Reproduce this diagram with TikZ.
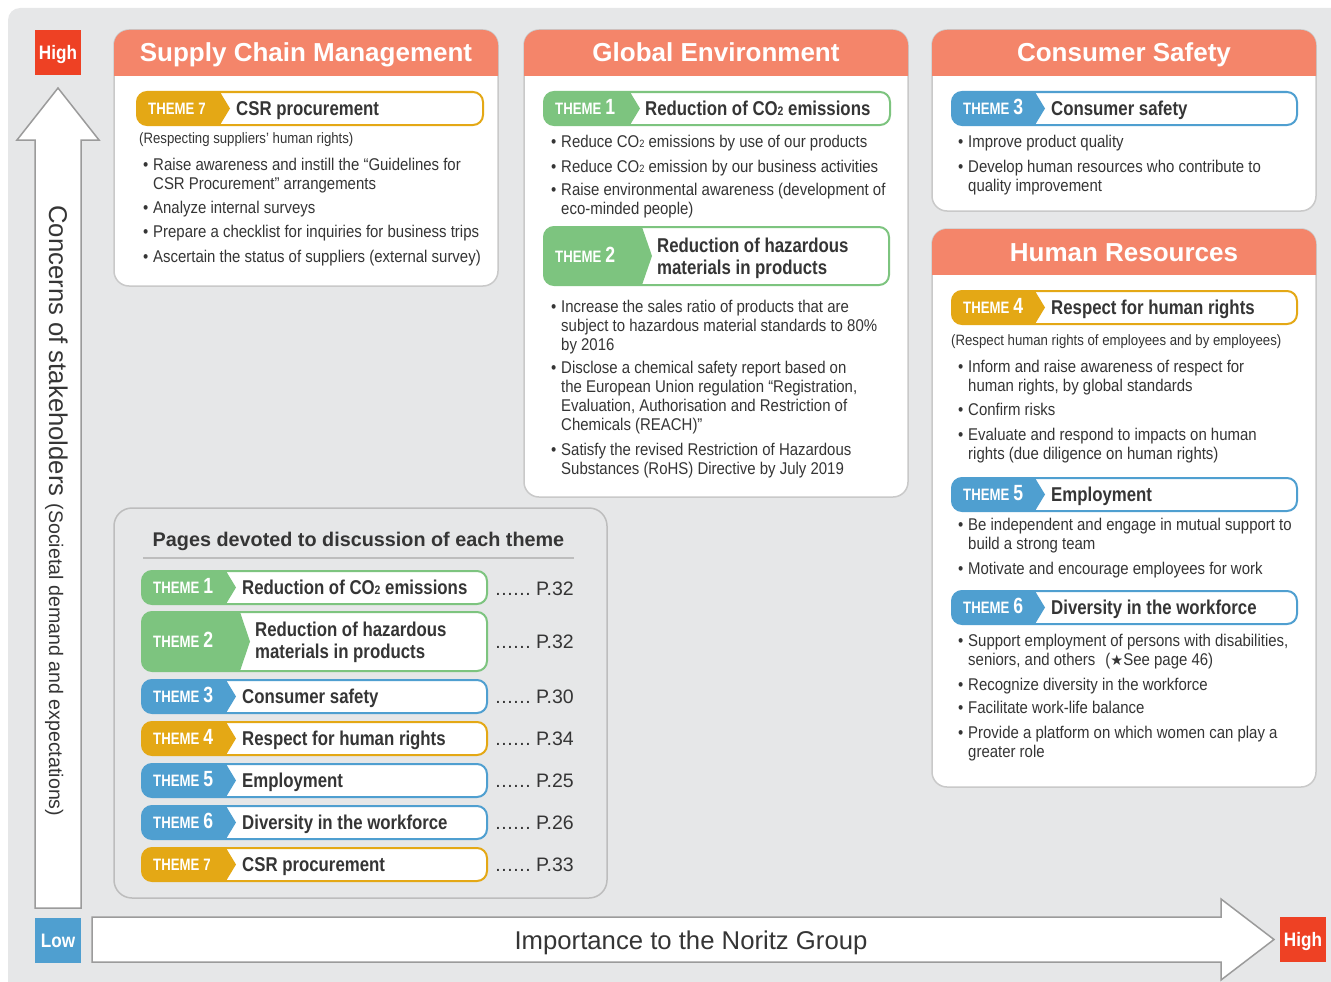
\documentclass[tikz,border=0pt]{standalone}
\usepackage{fontspec}
\usepackage{graphicx}
\setmainfont{Liberation Sans}
\newfontfamily\condfont{Liberation Sans}[FakeStretch=0.88]
\newfontfamily\tagfont{Liberation Sans}[FakeStretch=0.84]
\newfontfamily\themefont{Liberation Sans}[FakeStretch=0.8]
\newfontfamily\symfont{DejaVu Sans}
\definecolor{bg}{HTML}{E6E7E8}
\definecolor{hdrc}{HTML}{F4856A}
\definecolor{tgreen}{HTML}{7DC47F}
\definecolor{tblue}{HTML}{4F9FD0}
\definecolor{tgold}{HTML}{E4A815}
\definecolor{hired}{HTML}{EE4124}
\definecolor{lowblue}{HTML}{4F9FD0}
\definecolor{txt}{HTML}{353535}
\definecolor{pborder}{HTML}{C9C9C9}
\definecolor{ppborder}{HTML}{BDBDBD}
\definecolor{arrowc}{HTML}{9B9B9B}
\newcommand\COt{CO\scalebox{0.62}{2}}
\newcommand\TL[1]{THEME\hspace{4pt}{\fontsize{22}{22}\selectfont #1}}
\newcommand\TLs[1]{THEME\hspace{4pt}#1}
\newcommand\Ln[1]{\hbox{#1}}
\newcommand\Dots{.\kern0.6pt.\kern0.6pt.\kern0.6pt.\kern0.6pt.\kern0.6pt.}
\newcommand\Item[4]{\node[bul] (#1b) at (#2-10,#3) {•};\node[body] (#1) at (#2,#3) {\vtop{#4}};}
\newcommand\Panel[7]{%
  \draw[panel] (#2,#3) rectangle (#4,#5);
  \begin{scope}
    \clip[rounded corners=15] (#2,#3) rectangle (#4,#5);
    \fill[hdrc] (#2-2,#3-2) rectangle (#4+2,#6);
  \end{scope}
  \node[hdr] (#1) at ({(#2+#4)/2},{#3+32}) {#7};}
\newcommand\TagBox[8]{%
  \pgfmathsetmacro\tagmid{(#3+#5)/2}
  \begin{scope}
    \clip[rounded corners=10] (#2,#3) rectangle (#4,#5);
    \fill[white] (#2,#3) rectangle (#4,#5);
    \fill[#7] (#2-2,#3) -- (#6,#3) -- (#6+10,\tagmid) -- (#6,#5) -- (#2-2,#5) -- cycle;
  \end{scope}
  \draw[#7, line width=2, rounded corners=10] (#2,#3) rectangle (#4,#5);
  \node[thm] (#1) at (#2+11,\tagmid+6) {#8};}
\begin{document}
\begin{tikzpicture}[x=1pt,y=-1pt,
  panel/.style={fill=white, draw=pborder, line width=1.5, rounded corners=15},
  ppanel/.style={fill=bg, draw=ppborder, line width=1.5, rounded corners=18},
  hdr/.style={font=\bfseries\fontsize{26}{30}\selectfont, text=white, inner sep=0, anchor=base},
  body/.style={font=\condfont\fontsize{17}{19}\selectfont, text=txt, inner sep=0, anchor=base west},
  small/.style={font=\condfont\fontsize{15}{18}\selectfont, text=txt, inner sep=0, anchor=base west},
  bul/.style={font=\condfont\fontsize{17}{19}\selectfont, text=txt, inner sep=0, anchor=base west},
  ttl/.style={font=\tagfont\bfseries\fontsize{20}{22}\selectfont, text=txt, inner sep=0, anchor=base west},
  thm/.style={font=\themefont\bfseries\fontsize{16.5}{18}\selectfont, text=white, inner sep=0, anchor=base west},
  pg/.style={font=\fontsize{19.5}{22}\selectfont, text=txt, inner sep=0, anchor=base east},
  lvl/.style={minimum width=46, minimum height=45, inner sep=0, text height=14pt, text depth=0pt, text=white, font=\condfont\bfseries\fontsize{19.5}{20}\selectfont},
  bigarrow/.style={fill=white, draw=arrowc, line width=1.5}]
\useasboundingbox (0,0) rectangle (1331,982);
\begin{scope}
  \clip (0,0) rectangle (1331,982);
  \fill[bg, rounded corners=12] (8,8) rectangle (1360,1010);
\end{scope}
% axes
\draw[bigarrow] (35,908) -- (35,140) -- (17,140) -- (58,88) -- (99,140) -- (81,140) -- (81,908) -- cycle;
\draw[bigarrow] (92,917) -- (1221,917) -- (1221,899) -- (1274,939.5) -- (1221,980) -- (1221,962) -- (92,962) -- cycle;
\node[lvl, fill=hired] (hiy) at (58,52.5) {High};
\node[lvl, fill=lowblue] (low) at (58,940.5) {Low};
\node[lvl, fill=hired] (hix) at (1303,939.5) {High};
\node[anchor=base west, rotate=-90, inner sep=0, text=txt] (yl) at (49,205)
  {{\fontsize{25.7}{28}\selectfont Concerns of stakeholders}\hspace{7pt}{\fontsize{19.6}{22}\selectfont (Societal demand and expectations)}};
\node[anchor=base, inner sep=0, text=txt, font=\fontsize{25.7}{28}\selectfont] (xl) at (691,949) {Importance to the Noritz Group};
% Supply Chain Management
\Panel{scm}{114}{30}{498}{286}{76}{Supply Chain Management}
\TagBox{scm7}{137}{92}{483}{125}{220}{tgold}{\TLs{7}}
\node[ttl] (scm7t) at (236,115.5) {CSR procurement};
\node[small] (scmn) at (139,143) {(Respecting suppliers’ human rights)};
\Item{scma}{153}{170}{\Ln{Raise awareness and instill the “Guidelines for}\Ln{CSR Procurement” arrangements}}
\Item{scmb}{153}{213}{\Ln{Analyze internal surveys}}
\Item{scmc}{153}{237}{\Ln{Prepare a checklist for inquiries for business trips}}
\Item{scmd}{153}{262}{\Ln{Ascertain the status of suppliers (external survey)}}
% Global Environment
\Panel{ge}{524}{30}{908}{497}{76}{Global Environment}
\TagBox{ge1}{544}{92}{890}{125}{630}{tgreen}{\TL{1}}
\node[ttl] (ge1t) at (645,115.5) {Reduction of \COt\ emissions};
\Item{gea}{561}{147}{\Ln{Reduce \COt\ emissions by use of our products}}
\Item{geb}{561}{172}{\Ln{Reduce \COt\ emission by our business activities}}
\Item{gec}{561}{195}{\Ln{Raise environmental awareness (development of}\Ln{eco-minded people)}}
\TagBox{ge2}{544}{227}{889}{285}{642}{tgreen}{\TL{2}}
\node[ttl] (ge2t) at (657,252) {\vtop{\Ln{Reduction of hazardous}\Ln{materials in products}}};
\Item{ged}{561}{312}{\Ln{Increase the sales ratio of products that are}\Ln{subject to hazardous material standards to 80\%}\Ln{by 2016}}
\Item{gee}{561}{373}{\Ln{Disclose a chemical safety report based on}\Ln{the European Union regulation “Registration,}\Ln{Evaluation, Authorisation and Restriction of}\Ln{Chemicals (REACH)”}}
\Item{gef}{561}{455}{\Ln{Satisfy the revised Restriction of Hazardous}\Ln{Substances (RoHS) Directive by July 2019}}
% Consumer Safety
\Panel{cs}{932}{30}{1316}{211}{76}{Consumer Safety}
\TagBox{cs3}{952}{92}{1297}{125}{1035}{tblue}{\TL{3}}
\node[ttl] (cs3t) at (1051,115.5) {Consumer safety};
\Item{csa}{968}{147}{\Ln{Improve product quality}}
\Item{csb}{968}{172}{\Ln{Develop human resources who contribute to}\Ln{quality improvement}}
% Human Resources
\Panel{hr}{932}{229}{1316}{787}{275}{Human Resources}
\TagBox{hr4}{952}{291}{1297}{324}{1035}{tgold}{\TL{4}}
\node[ttl] (hr4t) at (1051,314.5) {Respect for human rights};
\node[small] (hrn) at (951,345) {(Respect human rights of employees and by employees)};
\Item{hra}{968}{372}{\Ln{Inform and raise awareness of respect for}\Ln{human rights, by global standards}}
\Item{hrb}{968}{415}{\Ln{Confirm risks}}
\Item{hrc}{968}{440}{\Ln{Evaluate and respond to impacts on human}\Ln{rights (due diligence on human rights)}}
\TagBox{hr5}{952}{478}{1297}{511}{1035}{tblue}{\TL{5}}
\node[ttl] (hr5t) at (1051,501.5) {Employment};
\Item{hrd}{968}{530}{\Ln{Be independent and engage in mutual support to}\Ln{build a strong team}}
\Item{hre}{968}{574}{\Ln{Motivate and encourage employees for work}}
\TagBox{hr6}{952}{591}{1297}{624}{1035}{tblue}{\TL{6}}
\node[ttl] (hr6t) at (1051,614.5) {Diversity in the workforce};
\Item{hrf}{968}{646}{\Ln{Support employment of persons with disabilities,}\Ln{seniors, and others\hspace{10pt}({\symfont\scalebox{0.85}{★}}See page 46)}}
\Item{hrg}{968}{690}{\Ln{Recognize diversity in the workforce}}
\Item{hrh}{968}{713}{\Ln{Facilitate work-life balance}}
\Item{hri}{968}{738}{\Ln{Provide a platform on which women can play a}\Ln{greater role}}
% Pages list
\draw[ppanel] (114,508) rectangle (607,898);
\node[anchor=base, inner sep=0, text=txt, font=\bfseries\fontsize{19.8}{22}\selectfont] (ptitle) at (358.5,546) {Pages devoted to discussion of each theme};
\coordinate (rl) at (143,558);
\coordinate (rr) at (574,558);
\draw[ppborder, line width=1.5] (rl) -- (rr);
\TagBox{l1}{142}{571}{487}{604}{226}{tgreen}{\TL{1}}
\node[ttl] (l1t) at (242,594.5) {Reduction of \COt\ emissions};
\node[pg] (p1) at (574,595) {\Dots\ P.32};
\TagBox{l2}{142}{612}{487}{671}{240}{tgreen}{\TL{2}}
\node[ttl] (l2t) at (255,636) {\vtop{\Ln{Reduction of hazardous}\Ln{materials in products}}};
\node[pg] (p2) at (574,648.5) {\Dots\ P.32};
\TagBox{l3}{142}{680}{487}{713}{226}{tblue}{\TL{3}}
\node[ttl] (l3t) at (242,703.5) {Consumer safety};
\node[pg] (p3) at (574,703.5) {\Dots\ P.30};
\TagBox{l4}{142}{722}{487}{755}{226}{tgold}{\TL{4}}
\node[ttl] (l4t) at (242,745.5) {Respect for human rights};
\node[pg] (p4) at (574,745.5) {\Dots\ P.34};
\TagBox{l5}{142}{764}{487}{797}{226}{tblue}{\TL{5}}
\node[ttl] (l5t) at (242,787.5) {Employment};
\node[pg] (p5) at (574,787.5) {\Dots\ P.25};
\TagBox{l6}{142}{806}{487}{839}{226}{tblue}{\TL{6}}
\node[ttl] (l6t) at (242,829.5) {Diversity in the workforce};
\node[pg] (p6) at (574,829.5) {\Dots\ P.26};
\TagBox{l7}{142}{848}{487}{881}{226}{tgold}{\TLs{7}}
\node[ttl] (l7t) at (242,871.5) {CSR procurement};
\node[pg] (p7) at (574,871.5) {\Dots\ P.33};
\end{tikzpicture}
\end{document}
